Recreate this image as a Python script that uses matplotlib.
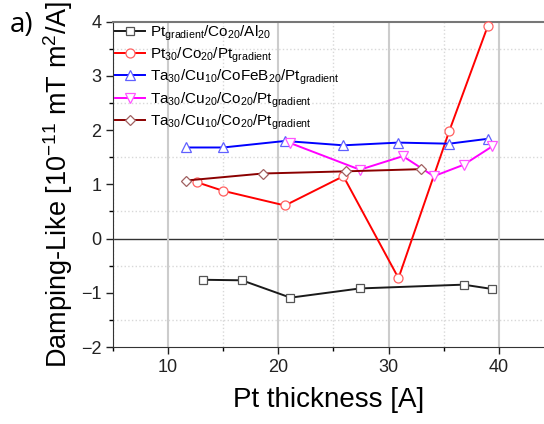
import numpy as np
import matplotlib.pyplot as plt
from matplotlib.ticker import MultipleLocator

plt.rcParams['font.family'] = ['Liberation Sans', 'DejaVu Sans']
plt.rcParams['mathtext.fontset'] = 'custom'
plt.rcParams['mathtext.rm'] = 'Liberation Sans'

# Pt_gradient/Co20/Al20
x_black = [13.2, 16.7, 21.1, 27.4, 36.8, 39.4]
y_black = [-0.76, -0.77, -1.09, -0.92, -0.85, -0.93]
# Pt30/Co20/Pt_gradient
x_red = [12.6, 15.0, 20.6, 25.9, 30.9, 35.5, 39.0]
y_red = [1.04, 0.88, 0.61, 1.15, -0.73, 1.98, 3.92]
# Ta30/Cu10/CoFeB20/Pt_gradient
x_blue = [11.6, 15.0, 20.6, 25.9, 30.9, 35.5, 39.0]
y_blue = [1.68, 1.68, 1.80, 1.72, 1.77, 1.75, 1.84]
# Ta30/Cu20/Co20/Pt_gradient
x_mag = [21.1, 27.4, 31.3, 34.1, 36.8, 39.4]
y_mag = [1.76, 1.27, 1.52, 1.15, 1.36, 1.70]
# Ta30/Cu10/Co20/Pt_gradient
x_brown = [11.6, 18.6, 26.1, 32.9]
y_brown = [1.07, 1.20, 1.24, 1.28]

labels = [r'$\mathregular{Pt_{gradient}/Co_{20}/Al_{20}}$',
          r'$\mathregular{Pt_{30}/Co_{20}/Pt_{gradient}}$',
          r'$\mathregular{Ta_{30}/Cu_{10}/CoFeB_{20}/Pt_{gradient}}$',
          r'$\mathregular{Ta_{30}/Cu_{20}/Co_{20}/Pt_{gradient}}$',
          r'$\mathregular{Ta_{30}/Cu_{10}/Co_{20}/Pt_{gradient}}$']

fig = plt.figure(figsize=(5.44, 4.24), dpi=100)
ax = fig.add_axes([113/544, 77/424, 1 - 113/544 + 0.002, 325.3/424])

ax.grid(which='major', axis='x', color='#cccccc', lw=1.5, ls='-')
ax.grid(which='minor', axis='both', color='#d8d8d8', lw=1.0, ls=':')
ax.axhline(0, color='#333333', lw=1.0, zorder=1)

series = [
    (x_black, y_black, '#1a1a1a', '#555555', 's', 6),
    (x_red, y_red, '#ff0000', '#ff6060', 'o', 6.5),
    (x_blue, y_blue, '#0000ff', '#6060ff', '^', 7),
    (x_mag, y_mag, '#ff00ff', '#ff55ff', 'v', 7),
    (x_brown, y_brown, '#8b0000', '#a06060', 'D', 5.5),
]
for (xs, ys, c, mc, m, ms), lab in zip(series, labels):
    ax.plot(xs, ys, color=c, lw=1.4, marker=m,
            ms=ms, mfc='white', mec=mc, mew=0.9,
            label=lab, zorder=3, clip_on=False)

ax.set_xlim(5, 44.2)
ax.set_ylim(-2, 4)
ax.xaxis.set_major_locator(MultipleLocator(10))
ax.xaxis.set_minor_locator(MultipleLocator(5))
ax.yaxis.set_major_locator(MultipleLocator(1))
ax.yaxis.set_minor_locator(MultipleLocator(0.5))
ax.tick_params(which='major', direction='out', length=5, width=1, labelsize=13, colors='#222222')
ax.tick_params(which='minor', direction='out', length=3, width=1)
ax.tick_params(top=False, right=False)

ax.spines['right'].set_visible(False)
ax.spines['top'].set_color('#777777')
ax.spines['top'].set_linewidth(1.5)
ax.spines['left'].set_color('#333333')
ax.spines['bottom'].set_color('#333333')

ax.set_xlabel('Pt thickness [A]', fontsize=20, labelpad=8)
ax.set_ylabel(r'Damping-Like [10$^{-11}$ mT m$^{2}$/A]', fontsize=19.5, labelpad=4)

ax.legend(loc='upper left', frameon=False, fontsize=11, handlelength=2.0,
          handletextpad=0.3, labelspacing=0.2, borderaxespad=0.0,
          borderpad=0.1)

fig.text(0.018, 0.975, 'a)', fontsize=20, family='Open Sans', va='top')

plt.savefig('out.png', dpi=100)
